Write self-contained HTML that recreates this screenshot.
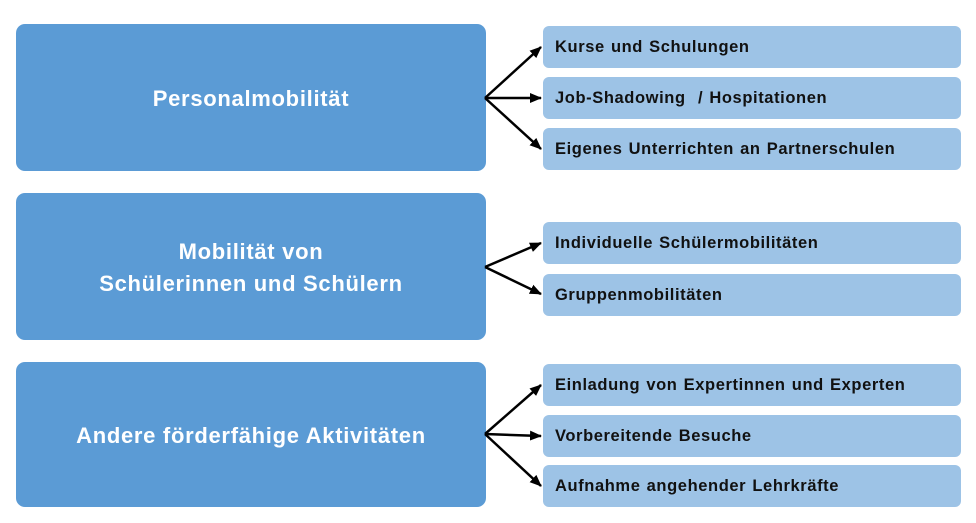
<!DOCTYPE html>
<html><head><style>
body{margin:0;width:976px;height:523px;background:#fff;position:relative;overflow:hidden;font-family:"Liberation Sans",sans-serif;font-weight:bold}
.L{position:absolute;left:16px;width:470px;background:#5b9bd5;border-radius:9px;color:#fff;font-size:22px;letter-spacing:0.7px;display:flex;align-items:center;justify-content:center;text-align:center;line-height:32px;padding-top:2px;box-sizing:border-box}
.R{position:absolute;left:543px;width:418px;height:42px;background:#9dc3e6;border-radius:6px;color:#111;font-size:16.5px;letter-spacing:0.6px;display:flex;align-items:center;padding-left:12px;padding-top:1px;box-sizing:border-box;word-spacing:1px}
svg{position:absolute;left:0;top:0}
</style></head><body>
<div class="L" style="top:24px;height:147px">Personalmobilität</div>
<div class="L" style="top:193px;height:147px">Mobilität von<br>Schülerinnen und Schülern</div>
<div class="L" style="top:362px;height:145px">Andere förderfähige Aktivitäten</div>
<div class="R" style="top:26px">Kurse und Schulungen</div>
<div class="R" style="top:77px">Job-Shadowing &nbsp;/ Hospitationen</div>
<div class="R" style="top:128px">Eigenes Unterrichten an Partnerschulen</div>
<div class="R" style="top:222px">Individuelle Schülermobilitäten</div>
<div class="R" style="top:274px">Gruppenmobilitäten</div>
<div class="R" style="top:364px">Einladung von Expertinnen und Experten</div>
<div class="R" style="top:415px">Vorbereitende Besuche</div>
<div class="R" style="top:465px">Aufnahme angehender Lehrkräfte</div>
<svg width="976" height="523"><defs><marker id="a" markerWidth="12" markerHeight="10" refX="11" refY="5" orient="auto" markerUnits="userSpaceOnUse"><path d="M0,0L12,5L0,10z" fill="#000"/></marker></defs>
<g stroke="#000" stroke-width="2.5" marker-end="url(#a)">
<line x1="485" y1="98" x2="541" y2="47"/><line x1="485" y1="98" x2="541" y2="98"/><line x1="485" y1="98" x2="541" y2="149"/>
<line x1="485" y1="267" x2="541" y2="243"/><line x1="485" y1="267" x2="541" y2="294"/>
<line x1="485" y1="434" x2="541" y2="385"/><line x1="485" y1="434" x2="541" y2="436"/><line x1="485" y1="434" x2="541" y2="486"/>
</g></svg>
</body></html>
